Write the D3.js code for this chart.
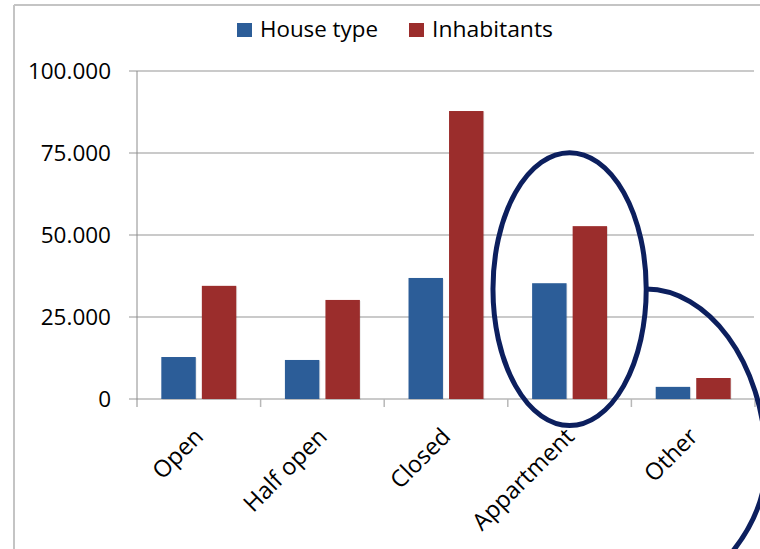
<!DOCTYPE html>
<html lang="en">
<head>
<meta charset="utf-8">
<title>House types</title>
<script src="https://d3js.org/d3.v7.min.js"></script>
<style>
  body { margin: 0; background: #fff; }
  text { font-family: "Open Sans", "DejaVu Sans", sans-serif; fill: #000; }
</style>
</head>
<body>
<script>
// data
var categories = ["Open", "Half open", "Closed", "Appartment", "Other"];
var series = ["House type", "Inhabitants"];
var houseType = [12800, 11900, 36900, 35300, 3700];
var inhabitants = [34500, 30200, 87800, 52700, 6400];
var yTicks = [0, 25000, 50000, 75000, 100000];
var yTickLabels = ["0", "25.000", "50.000", "75.000", "100.000"];
var colors = ["#2c5d98", "#9b2d2c"];

var w = 760, h = 549;
var svg = d3.select("body").append("svg")
    .attr("width", w)
    .attr("height", h);

// chart frame (only top and left edges are visible)
svg.append("line").attr("x1", 14).attr("x2", w).attr("y1", 5).attr("y2", 5)
    .attr("stroke", "#c4c4c4").attr("stroke-width", 2);
svg.append("line").attr("x1", 14).attr("x2", 14).attr("y1", 5).attr("y2", h)
    .attr("stroke", "#c4c4c4").attr("stroke-width", 2);

var x = d3.scaleBand().domain(categories).range([137, 755]);
var xSub = d3.scaleBand().domain(series).range([0, x.bandwidth()])
    .paddingInner(0.15).paddingOuter(0.6);
var y = d3.scaleLinear().domain([0, 100000]).range([399, 71]);

// gridlines + y ticks
svg.append("g").selectAll("line").data(yTicks).join("line")
    .attr("x1", 129).attr("x2", 754)
    .attr("y1", d => y(d)).attr("y2", d => y(d))
    .attr("stroke", "#b8b8b8").attr("stroke-width", 1.5);

svg.append("g").selectAll("text").data(yTicks).join("text")
    .attr("x", 111).attr("y", d => y(d))
    .attr("dy", "0.36em")
    .attr("text-anchor", "end")
    .attr("font-size", 22.5)
    .text((d, i) => yTickLabels[i]);

// y axis line
svg.append("line").attr("x1", 137).attr("x2", 137)
    .attr("y1", y(100000)).attr("y2", y(0) + 8)
    .attr("stroke", "#8c8c8c").attr("stroke-width", 1);

// x ticks
var bounds = categories.map(c => x(c)).concat([x.range()[1]]);
svg.append("g").selectAll("line").data(bounds.slice(1)).join("line")
    .attr("x1", d => d).attr("x2", d => d)
    .attr("y1", y(0)).attr("y2", y(0) + 8)
    .attr("stroke", "#b8b8b8").attr("stroke-width", 1.5);

// bars
var rows = categories.map((c, i) => ({cat: c, vals: [houseType[i], inhabitants[i]]}));
var groups = svg.append("g").selectAll("g").data(rows).join("g")
    .attr("transform", d => "translate(" + x(d.cat) + ",0)");

groups.selectAll("rect.shadow").data(d => d.vals).join("rect")
    .attr("class", "shadow")
    .attr("x", (d, i) => xSub(series[i]) + 1)
    .attr("y", d => y(d) + 1)
    .attr("width", xSub.bandwidth())
    .attr("height", d => y(0) - y(d))
    .attr("fill", "#000").attr("opacity", 0.08);

groups.selectAll("rect.bar").data(d => d.vals).join("rect")
    .attr("class", "bar")
    .attr("x", (d, i) => xSub(series[i]))
    .attr("y", d => y(d))
    .attr("width", xSub.bandwidth())
    .attr("height", d => y(0) - y(d))
    .attr("fill", (d, i) => colors[i]);

// category labels
svg.append("g").selectAll("text").data(categories).join("text")
    .attr("transform", d => "translate(" + (x(d) + x.bandwidth() / 2 + 6) + ",438) rotate(-45)")
    .attr("text-anchor", "end")
    .attr("font-size", 23.5)
    .text(d => d);

// legend
var legendX = [237, 409];
var legendW = [118, 121];
var lg = svg.append("g").selectAll("g").data(series).join("g")
    .attr("transform", (d, i) => "translate(" + legendX[i] + ",0)");
lg.append("rect").attr("x", 0).attr("y", 23).attr("width", 15).attr("height", 14)
    .attr("fill", (d, i) => colors[i]);
lg.append("text").attr("x", 23).attr("y", 37)
    .attr("font-size", 22)
    .attr("textLength", (d, i) => legendW[i])
    .attr("lengthAdjust", "spacingAndGlyphs")
    .text(d => d);

// hand drawn highlight round "Appartment" and the tail running off to the right
var cx = x("Appartment") + x.bandwidth() / 2;
var cy = y(33500);
var rx = x.bandwidth() * 0.62;
var ry = y(0) - y(41600);
svg.append("ellipse")
    .attr("cx", cx).attr("cy", cy).attr("rx", rx).attr("ry", ry)
    .attr("fill", "none").attr("stroke", "#0c1f5e").attr("stroke-width", 5);

var sx = cx + rx, sy = cy;
var tail = d3.path();
tail.moveTo(sx, sy);
tail.bezierCurveTo(sx + 60, sy, sx + 118, sy + 70, sx + 120, sy + 172);
tail.bezierCurveTo(sx + 120, sy + 207, sx + 107, sy + 237, sx + 85, sy + 264);
svg.append("path").attr("d", tail.toString())
    .attr("fill", "none").attr("stroke", "#0c1f5e").attr("stroke-width", 5);
</script>
</body>
</html>
